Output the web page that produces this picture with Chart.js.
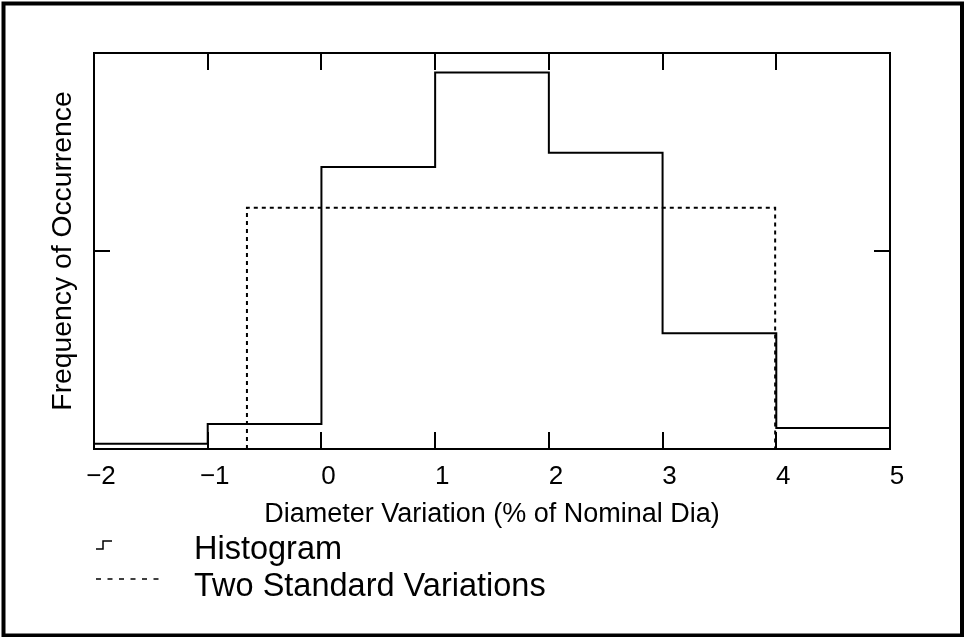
<!DOCTYPE html>
<html>
<head>
<meta charset="utf-8">
<title>Diameter Variation Histogram</title>
<script src="https://cdn.jsdelivr.net/npm/chart.js@4/dist/chart.umd.min.js"></script>
<style>
  html, body { margin: 0; padding: 0; background: #fff; }
  #wrap { width: 964px; height: 637px; position: relative; }
</style>
</head>
<body>
<div id="wrap"><canvas id="myChart" width="964" height="637"></canvas></div>
<script>
// histogram bins (% of nominal diameter) and relative frequency
const binEdges = [-2, -1, 0, 1, 2, 3, 4, 5];
const binFreq = [0.013, 0.063, 0.712, 0.951, 0.748, 0.292, 0.053];

// two standard variation band
const bandLimits = [-0.655, 3.99];
const bandLevel = 0.609;

const xTicks = [-2, -1, 0, 1, 2, 3, 4, 5];
const yTicks = [0, 0.5, 1];

const FONT = "'Liberation Sans', Arial, Helvetica, sans-serif";

// stepped line points: each bin edge carries the height of the bin to its right
const histPoints = [];
for (let i = 0; i < binEdges.length; i++) {
    const f = i < binFreq.length ? binFreq[i] : binFreq[binFreq.length - 1];
    histPoints.push({x: binEdges[i], y: f});
}

const bandPoints = [
    {x: bandLimits[0], y: 0},
    {x: bandLimits[0], y: bandLevel},
    {x: bandLimits[1], y: bandLevel},
    {x: bandLimits[1], y: 0}
];

// box, inward ticks, outer frame and legend
const framePlugin = {
    id: 'frame',
    afterDraw(chart) {
        const ctx = chart.ctx;
        const a = chart.chartArea;
        const xs = chart.scales.x, ys = chart.scales.y;
        ctx.save();
        ctx.strokeStyle = '#000';
        ctx.lineWidth = 2;
        ctx.strokeRect(a.left, a.top, a.right - a.left, a.bottom - a.top);

        ctx.beginPath();
        xTicks.forEach(function (v) {
            const px = Math.round(xs.getPixelForValue(v));
            ctx.moveTo(px, a.bottom); ctx.lineTo(px, a.bottom - 17);
            ctx.moveTo(px, a.top); ctx.lineTo(px, a.top + 17);
        });
        yTicks.forEach(function (v) {
            const py = Math.round(ys.getPixelForValue(v));
            ctx.moveTo(a.left, py); ctx.lineTo(a.left + 16, py);
            ctx.moveTo(a.right, py); ctx.lineTo(a.right - 16, py);
        });
        ctx.stroke();

        // outer frame
        ctx.lineWidth = 4;
        ctx.strokeRect(3.5, 3.5, 958.5, 632);

        // legend
        const ds = chart.data.datasets;
        ctx.lineWidth = 1.5;
        ctx.beginPath();
        ctx.moveTo(96, 549); ctx.lineTo(103, 549);
        ctx.lineTo(103, 541); ctx.lineTo(112, 541);
        ctx.stroke();

        ctx.setLineDash([5, 6.5]);
        ctx.beginPath();
        ctx.moveTo(96, 579); ctx.lineTo(162, 579);
        ctx.stroke();
        ctx.setLineDash([]);

        ctx.fillStyle = '#000';
        ctx.font = '32.5px ' + FONT;
        ctx.textBaseline = 'alphabetic';
        ctx.textAlign = 'left';
        ctx.fillText(ds[0].label, 194, 559);
        ctx.fillText(ds[1].label, 194, 596);
        ctx.restore();
    }
};

const data = {
    datasets: [{
        label: 'Histogram',
        data: histPoints,
        stepped: 'before',
        borderColor: '#000',
        borderWidth: 2,
        pointRadius: 0,
        fill: false
    }, {
        label: 'Two Standard Variations',
        data: bandPoints,
        borderColor: '#000',
        borderWidth: 2,
        borderDash: [4, 4],
        pointRadius: 0,
        fill: false
    }]
};

const config = {
    type: 'line',
    data,
    options: {
        responsive: false,
        animation: false,
        layout: {padding: {left: 0, top: 53, right: 74, bottom: 98}},
        plugins: {
            legend: {display: false},
            tooltip: {enabled: false}
        },
        scales: {
            x: {
                type: 'linear',
                min: -2,
                max: 5,
                grid: {display: false, drawTicks: false},
                border: {display: false},
                ticks: {
                    stepSize: 1,
                    color: '#000',
                    padding: 12,
                    labelOffset: 7,
                    font: {family: FONT, size: 26},
                    callback: function (v) { return v < 0 ? '\u2212' + Math.abs(v) : String(v); }
                },
                title: {
                    display: true,
                    text: 'Diameter Variation (% of Nominal Dia)',
                    color: '#000',
                    font: {family: FONT, size: 27},
                    padding: {top: 0, bottom: 8}
                },
                afterFit: function (scale) { scale.height = 90; }
            },
            y: {
                min: 0,
                max: 1,
                grid: {display: false, drawTicks: false},
                border: {display: false},
                ticks: {display: false, stepSize: 0.5},
                title: {
                    display: true,
                    text: 'Frequency of Occurrence',
                    color: '#000',
                    font: {family: FONT, size: 28.3},
                    padding: {top: 46, bottom: 0}
                },
                afterFit: function (scale) { scale.width = 94; }
            }
        }
    },
    plugins: [framePlugin]
};

var myChart = new Chart(document.getElementById('myChart'), config);
</script>
</body>
</html>
